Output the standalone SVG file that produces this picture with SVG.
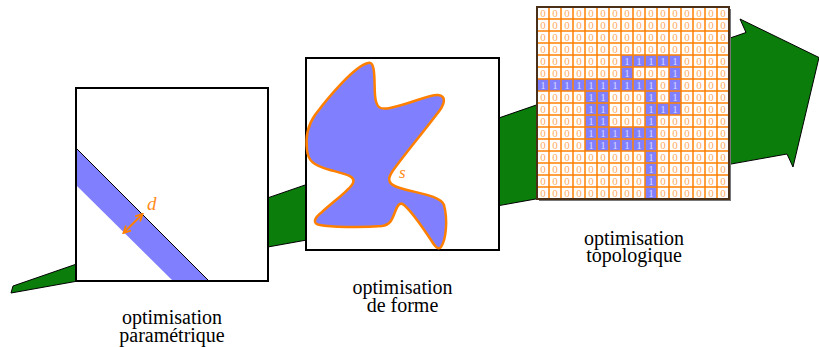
<svg xmlns="http://www.w3.org/2000/svg" width="819" height="347" viewBox="0 0 819 347">
<style>
text{font-family:'Liberation Serif','Times New Roman',serif}
.box{fill:#ffffff;stroke:#000000;stroke-width:2}
.lbl{font-size:20px;fill:#000000;text-anchor:middle}
.it{font-style:italic;fill:#ff8c1a}
.z{font-size:11px;fill:#ffac60;text-anchor:middle}
.o{font-size:11px;fill:#d8d8ff;text-anchor:middle}
.blue{fill:#8080ff}
.gl{stroke:#ff8000;stroke-width:1.5;fill:none}
</style>
<defs>
<marker id="ah" viewBox="0 0 10 10" refX="8" refY="5" markerWidth="9" markerHeight="9" orient="auto-start-reverse" markerUnits="userSpaceOnUse">
<path d="M1,1 L9,5 L1,9" fill="none" stroke="#ff8000" stroke-width="2"/>
</marker>
</defs>
<rect width="819" height="347" fill="#ffffff"/>
<g id="connectors">
<polygon points="13,286 746,32.5 740,19 819,57.5 793,167 787,154 11,293" fill="#0b7d0b" stroke="#000000" stroke-width="1" stroke-linejoin="miter"/>
</g>
<g id="node-parametrique">
<rect class="box" x="76" y="88" width="192" height="193"/>
<polygon class="blue" points="77,149 208,280 172,280 77,186"/>
<line x1="77" y1="149" x2="208" y2="280" stroke="#000000" stroke-width="1"/>
<line x1="142" y1="214.5" x2="124" y2="232.5" stroke="#ff8000" stroke-width="2" marker-start="url(#ah)" marker-end="url(#ah)"/>
<text class="it" x="147" y="210" font-size="19">d</text>
<text class="lbl"><tspan x="172" y="324">optimisation</tspan><tspan x="172" y="342">paramétrique</tspan></text>
</g>
<g id="node-forme">
<rect class="box" x="306" y="58" width="193" height="192"/>
<path d="M368,63 C376,60 374,82 375,95 C376,108 380,110 390,108 C410,104 430,94 438,95 C447,96 444,104 440,110 C425,130 400,160 392,172 C386,181 390,185 400,188 C415,193 440,195 444,205 C448,220 446,240 441,247 C438,251 434,245 431,240 C421,225 410,210 404,205 C400,201 397,206 395,212 C392,220 390,225 382,226 C360,228 330,227 320,225 C312,224 314,218 322,212 C335,200 350,190 353,183 C356,176 345,174 330,170 C312,165 308,160 307,150 C305,135 308,125 315,115 C330,95 355,66 368,63 Z" fill="#8080ff" stroke="#ff8000" stroke-width="2.5"/>
<text class="it" x="399" y="178" font-size="17">s</text>
<text class="lbl"><tspan x="402.5" y="293.5">optimisation</tspan><tspan x="402.5" y="312">de forme</tspan></text>
</g>
<g id="node-topologique">
<rect x="539" y="9" width="192" height="192" fill="#777777"/>
<rect x="537" y="7" width="192" height="192" fill="#ffffff"/>
<g id="blue-cells" class="blue">
<rect x="621" y="55" width="60" height="12"/>
<rect x="621" y="67" width="12" height="12"/>
<rect x="669" y="67" width="12" height="12"/>
<rect x="537" y="79" width="120" height="12"/>
<rect x="669" y="79" width="12" height="12"/>
<rect x="585" y="91" width="24" height="12"/>
<rect x="645" y="91" width="12" height="12"/>
<rect x="669" y="91" width="12" height="12"/>
<rect x="585" y="103" width="24" height="12"/>
<rect x="645" y="103" width="36" height="12"/>
<rect x="585" y="115" width="24" height="12"/>
<rect x="645" y="115" width="12" height="12"/>
<rect x="585" y="127" width="72" height="24"/>
<rect x="645" y="151" width="12" height="48"/>
</g>
<path class="gl" d="M549,7V199M561,7V199M573,7V199M585,7V199M597,7V199M609,7V199M621,7V199M633,7V199M645,7V199M657,7V199M669,7V199M681,7V199M693,7V199M705,7V199M717,7V199M537,19H729M537,31H729M537,43H729M537,55H729M537,67H729M537,79H729M537,91H729M537,103H729M537,115H729M537,127H729M537,139H729M537,151H729M537,163H729M537,175H729M537,187H729"/>
<rect x="537" y="7" width="192" height="192" fill="none" stroke="#4a3018" stroke-width="2"/>
<g id="digits">
<text class="z" x="543 555 567 579 591 603 615 627 639 651 663 675 687 699 711 723" y="17">0000000000000000</text>
<text class="z" x="543 555 567 579 591 603 615 627 639 651 663 675 687 699 711 723" y="29">0000000000000000</text>
<text class="z" x="543 555 567 579 591 603 615 627 639 651 663 675 687 699 711 723" y="41">0000000000000000</text>
<text class="z" x="543 555 567 579 591 603 615 627 639 651 663 675 687 699 711 723" y="53">0000000000000000</text>
<text class="z" x="543 555 567 579 591 603 615" y="65">0000000</text>
<text class="o" x="627 639 651 663 675" y="65">11111</text>
<text class="z" x="687 699 711 723" y="65">0000</text>
<text class="z" x="543 555 567 579 591 603 615" y="77">0000000</text>
<text class="o" x="627" y="77">1</text>
<text class="z" x="639 651 663" y="77">000</text>
<text class="o" x="675" y="77">1</text>
<text class="z" x="687 699 711 723" y="77">0000</text>
<text class="o" x="543 555 567 579 591 603 615 627 639 651" y="89">1111111111</text>
<text class="z" x="663" y="89">0</text>
<text class="o" x="675" y="89">1</text>
<text class="z" x="687 699 711 723" y="89">0000</text>
<text class="z" x="543 555 567 579" y="101">0000</text>
<text class="o" x="591 603" y="101">11</text>
<text class="z" x="615 627 639" y="101">000</text>
<text class="o" x="651" y="101">1</text>
<text class="z" x="663" y="101">0</text>
<text class="o" x="675" y="101">1</text>
<text class="z" x="687 699 711 723" y="101">0000</text>
<text class="z" x="543 555 567 579" y="113">0000</text>
<text class="o" x="591 603" y="113">11</text>
<text class="z" x="615 627 639" y="113">000</text>
<text class="o" x="651 663 675" y="113">111</text>
<text class="z" x="687 699 711 723" y="113">0000</text>
<text class="z" x="543 555 567 579" y="125">0000</text>
<text class="o" x="591 603" y="125">11</text>
<text class="z" x="615 627 639" y="125">000</text>
<text class="o" x="651" y="125">1</text>
<text class="z" x="663 675 687 699 711 723" y="125">000000</text>
<text class="z" x="543 555 567 579" y="137">0000</text>
<text class="o" x="591 603 615 627 639 651" y="137">111111</text>
<text class="z" x="663 675 687 699 711 723" y="137">000000</text>
<text class="z" x="543 555 567 579" y="149">0000</text>
<text class="o" x="591 603 615 627 639 651" y="149">111111</text>
<text class="z" x="663 675 687 699 711 723" y="149">000000</text>
<text class="z" x="543 555 567 579 591 603 615 627 639" y="161">000000000</text>
<text class="o" x="651" y="161">1</text>
<text class="z" x="663 675 687 699 711 723" y="161">000000</text>
<text class="z" x="543 555 567 579 591 603 615 627 639" y="173">000000000</text>
<text class="o" x="651" y="173">1</text>
<text class="z" x="663 675 687 699 711 723" y="173">000000</text>
<text class="z" x="543 555 567 579 591 603 615 627 639" y="185">000000000</text>
<text class="o" x="651" y="185">1</text>
<text class="z" x="663 675 687 699 711 723" y="185">000000</text>
<text class="z" x="543 555 567 579 591 603 615 627 639" y="197">000000000</text>
<text class="o" x="651" y="197">1</text>
<text class="z" x="663 675 687 699 711 723" y="197">000000</text>
</g>
<text class="lbl"><tspan x="634" y="244.5">optimisation</tspan><tspan x="634" y="262">topologique</tspan></text>
</g>
</svg>
